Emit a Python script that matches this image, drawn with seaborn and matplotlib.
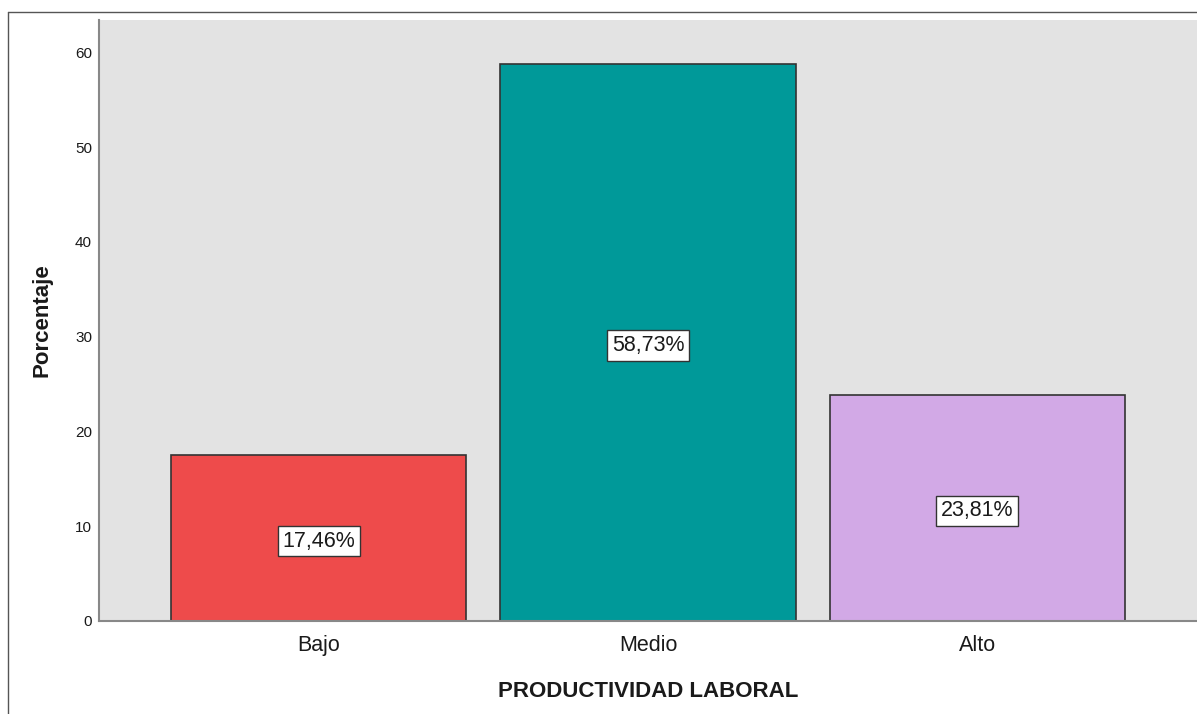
import numpy as np
import pandas as pd
import matplotlib
matplotlib.use("Agg")
import matplotlib.pyplot as plt
import seaborn as sns
from matplotlib.lines import Line2D

categorias = ["Bajo", "Medio", "Alto"]
porcentajes = [17.46, 58.73, 23.81]
etiquetas = ["17,46%", "58,73%", "23,81%"]
colores = ["#EE4B4B", "#009999", "#D2A9E6"]
y_ticks = [0, 10, 20, 30, 40, 50, 60]

sns.set_style("white")
plt.rcParams['font.family'] = ['Liberation Sans', 'DejaVu Sans']
plt.rcParams['text.color'] = "#1a1a1a"
plt.rcParams['axes.labelcolor'] = "#1a1a1a"
plt.rcParams['xtick.color'] = "#1a1a1a"
plt.rcParams['ytick.color'] = "#1a1a1a"

df = pd.DataFrame({"categoria": categorias, "porcentaje": porcentajes})

fig = plt.figure(figsize=(11.97, 7.14), dpi=100)
ax = fig.add_axes([99 / 1197, 1 - 621 / 714, 1 - 99 / 1197, (621 - 20) / 714])

sns.barplot(data=df, x="categoria", y="porcentaje", hue="categoria",
            palette=colores, order=categorias, width=0.897, saturation=1,
            edgecolor="#333333", linewidth=1.2, legend=False, ax=ax)

ax.set_facecolor("#E3E3E3")
ax.set_xlim(-0.667, 2.667)
ax.set_ylim(0, 63.4)
ax.set_yticks(y_ticks)
ax.tick_params(axis="y", labelsize=11, length=0, pad=5)
ax.tick_params(axis="x", labelsize=15.5, length=0, pad=10)

for side in ["top", "right"]:
    ax.spines[side].set_visible(False)
for side in ["left", "bottom"]:
    ax.spines[side].set_color("#888888")
    ax.spines[side].set_linewidth(1.5)

ax.set_xlabel("PRODUCTIVIDAD LABORAL", fontsize=16, fontweight="bold", labelpad=18)
ax.set_ylabel("Porcentaje", fontsize=16, fontweight="bold", labelpad=16)

for i, (v, t) in enumerate(zip(porcentajes, etiquetas)):
    ax.text(i, v / 2 - 0.3, t, ha="center", va="center", fontsize=15.5,
            bbox=dict(boxstyle="square,pad=0.22", facecolor="white",
                      edgecolor="#333333", linewidth=1))

# marco de la figura (izquierda y arriba)
fig.add_artist(Line2D([8 / 1197, 8 / 1197], [0, 1 - 12 / 714],
                      transform=fig.transFigure, color="#555555", linewidth=1))
fig.add_artist(Line2D([8 / 1197, 1], [1 - 12 / 714, 1 - 12 / 714],
                      transform=fig.transFigure, color="#555555", linewidth=1))

fig.savefig("out.png", dpi=100)
